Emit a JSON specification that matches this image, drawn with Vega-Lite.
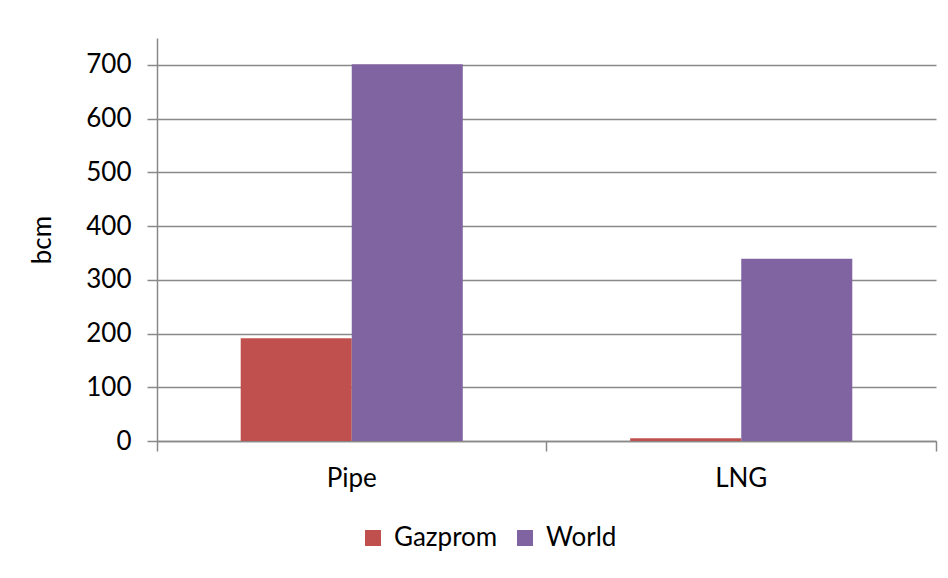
{
  "$schema": "https://vega.github.io/schema/vega-lite/v6.json",
  "width": 779,
  "height": 403,
  "autosize": "none",
  "padding": {"left": 157, "top": 38, "right": 12, "bottom": 137},
  "background": "white",
  "config": {
    "view": {"stroke": null},
    "font": "Lato",
    "axis": {"labelFont": "Lato", "titleFont": "Lato"},
    "legend": {"labelFont": "Lato"}
  },
  "data": {
    "values": [
      {"type": "Pipe", "source": "Gazprom", "bcm": 191},
      {"type": "Pipe", "source": "World", "bcm": 701},
      {"type": "LNG", "source": "Gazprom", "bcm": 5},
      {"type": "LNG", "source": "World", "bcm": 339}
    ]
  },
  "mark": {"type": "bar"},
  "encoding": {
    "x": {
      "field": "type",
      "type": "nominal",
      "sort": ["Pipe", "LNG"],
      "scale": {"paddingInner": 0, "paddingOuter": 0},
      "axis": {
        "title": null,
        "labelAngle": 0,
        "labelFontSize": 26,
        "labelColor": "#000000",
        "labelPadding": 14,
        "bandPosition": 1,
        "tickExtra": true,
        "tickSize": 10,
        "tickColor": "#898989",
        "tickWidth": 1.5,
        "domainColor": "#898989",
        "domainWidth": 1.5,
        "grid": false
      }
    },
    "xOffset": {
      "field": "source",
      "type": "nominal",
      "scale": {"paddingInner": 0, "paddingOuter": 0.754}
    },
    "y": {
      "field": "bcm",
      "type": "quantitative",
      "scale": {"domain": [0, 750], "nice": false},
      "axis": {
        "title": "bcm",
        "titleFontSize": 26,
        "titleFontWeight": "normal",
        "titleColor": "#000000",
        "titlePadding": 30,
        "values": [0, 100, 200, 300, 400, 500, 600, 700],
        "labelFontSize": 26,
        "labelColor": "#000000",
        "labelPadding": 16,
        "tickSize": 10,
        "tickColor": "#898989",
        "tickWidth": 1.5,
        "domainColor": "#898989",
        "domainWidth": 1.5,
        "gridColor": "#898989",
        "gridWidth": 1.5
      }
    },
    "color": {
      "field": "source",
      "type": "nominal",
      "scale": {"domain": ["Gazprom", "World"], "range": ["#C0504D", "#8064A2"]},
      "legend": {
        "title": null,
        "orient": "none",
        "direction": "horizontal",
        "legendX": 203,
        "legendY": 487,
        "symbolType": "square",
        "symbolSize": 256,
        "symbolStrokeWidth": 0,
        "labelFontSize": 26,
        "labelOffset": 8,
        "labelColor": "#000000",
        "columnPadding": 14
      }
    }
  }
}
